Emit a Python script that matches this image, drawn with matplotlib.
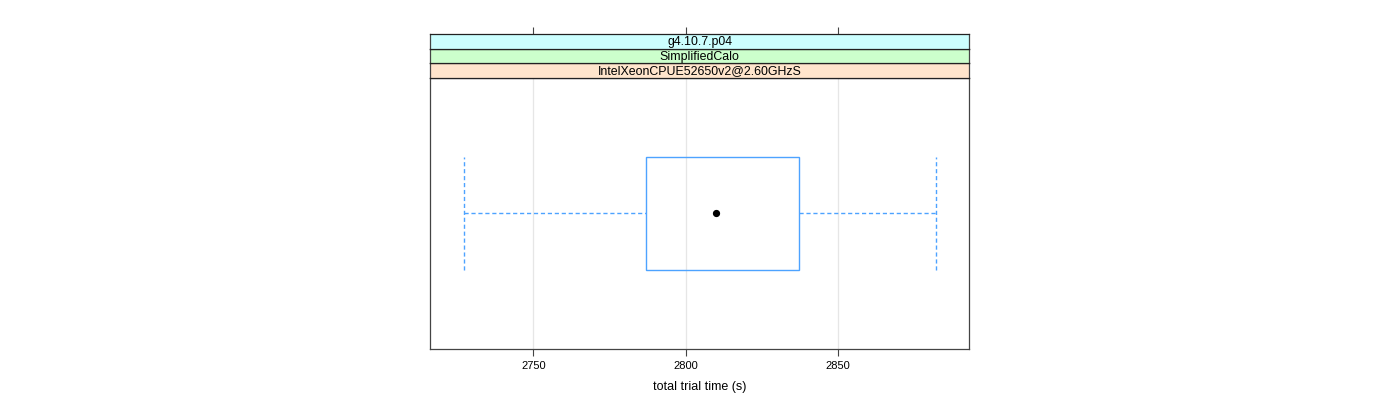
import matplotlib
matplotlib.use("Agg")
import matplotlib.pyplot as plt
from matplotlib.patches import Rectangle

plt.rcParams['font.family'] = ['Liberation Sans', 'DejaVu Sans']

# data
strip_labels = ["IntelXeonCPUE52650v2@2.60GHzS", "SimplifiedCalo", "g4.10.7.p04"]
strip_colors = ["#ffe5cc", "#ccffcc", "#ccffff"]
whisker_low = 2727.1
q1 = 2786.9
median = 2809.9
q3 = 2837.2
whisker_high = 2882.3
xticks = [2750, 2800, 2850]
xlim = (2716.1, 2893.1)
xlabel = "total trial time (s)"

W, H = 1400, 400
fig = plt.figure(figsize=(W / 100, H / 100), dpi=100)

def fx(px):
    return px / W

def fy(py):
    return 1 - py / H

left, right = 430, 969.3
main_top, main_bot = 77.7, 348.5
strip_top = 34.0

ax = fig.add_axes([fx(left), fy(main_bot), fx(right - left), (main_bot - main_top) / H])
ax.set_xlim(*xlim)
ax.set_ylim(0.4, 1.6)

for t in xticks:
    ax.axvline(t, color='#e6e6e6', lw=0.9, zorder=0)

blue = '#4da3ff'
y0 = 1.0
bh = 0.5
ax.add_patch(Rectangle((q1, y0 - bh / 2), q3 - q1, bh, fill=False, edgecolor=blue, lw=1.0, zorder=2))
ax.plot([whisker_low, q1], [y0, y0], color=blue, lw=1.0, ls=(0, (3, 2)), zorder=2)
ax.plot([q3, whisker_high], [y0, y0], color=blue, lw=1.0, ls=(0, (3, 2)), zorder=2)
ax.plot([whisker_low, whisker_low], [y0 - bh / 2, y0 + bh / 2], color=blue, lw=1.0, ls=(0, (3, 2)), zorder=2)
ax.plot([whisker_high, whisker_high], [y0 - bh / 2, y0 + bh / 2], color=blue, lw=1.0, ls=(0, (3, 2)), zorder=2)
ax.plot([median], [y0], 'o', color='black', ms=4.2, zorder=3)

ax.set_yticks([])
ax.set_xticks(xticks)
ax.set_xticklabels([str(t) for t in xticks], fontsize=8)
ax.tick_params(axis='x', direction='out', length=5, width=0.8, color='#444444', pad=4, top=False)
ax.set_xlabel(xlabel, fontsize=9, labelpad=7)
for s in ax.spines.values():
    s.set_color('#444444')
    s.set_linewidth(0.9)

# strips
n = len(strip_labels)
sh = (main_top - strip_top) / n
for i, (lab, col) in enumerate(zip(strip_labels, strip_colors)):
    bot = main_top - i * sh
    sax = fig.add_axes([fx(left), fy(bot), fx(right - left), sh / H])
    sax.set_facecolor(col)
    sax.set_xlim(*xlim)
    sax.set_ylim(0, 1)
    sax.set_yticks([])
    if i == n - 1:
        sax.set_xticks(xticks)
        sax.tick_params(axis='x', direction='out', length=5, width=0.8, color='#444444',
                        top=True, bottom=False, labeltop=False, labelbottom=False)
    else:
        sax.set_xticks([])
    sax.text(0.5, 0.45, lab, ha='center', va='center', fontsize=8.9, transform=sax.transAxes)
    for s in sax.spines.values():
        s.set_color('#222222')
        s.set_linewidth(0.9)
    sax.spines['left'].set_color('#444444')
    sax.spines['right'].set_color('#444444')

fig.savefig("out.png", dpi=100)
